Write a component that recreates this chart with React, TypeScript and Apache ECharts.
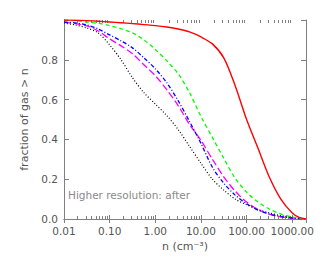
import React, { useEffect, useRef } from "react";
import * as echarts from "echarts";

const nValues = [0.01, 0.0178, 0.0316, 0.0562, 0.1, 0.178, 0.316, 0.562, 1, 1.78, 3.16, 5.62, 10, 17.8, 31.6, 56.2, 100, 178, 316, 562, 1000, 1410, 2000];
const redValues = [1.0, 0.999, 0.997, 0.994, 0.99, 0.986, 0.982, 0.977, 0.972, 0.965, 0.955, 0.94, 0.915, 0.88, 0.81, 0.67, 0.5, 0.355, 0.21, 0.1, 0.03, 0.008, 0.0];
const greenValues = [1.0, 0.997, 0.99, 0.983, 0.972, 0.956, 0.935, 0.9, 0.852, 0.795, 0.73, 0.635, 0.515, 0.41, 0.305, 0.205, 0.135, 0.085, 0.05, 0.025, 0.01, 0.004, 0.0];
const blueValues = [0.99, 0.985, 0.975, 0.955, 0.925, 0.895, 0.86, 0.81, 0.755, 0.685, 0.595, 0.49, 0.38, 0.26, 0.18, 0.12, 0.077, 0.045, 0.025, 0.012, 0.005, 0.002, 0.0];
const magentaValues = [0.988, 0.982, 0.97, 0.945, 0.905, 0.87, 0.83, 0.775, 0.72, 0.65, 0.57, 0.475, 0.395, 0.3, 0.212, 0.14, 0.085, 0.048, 0.024, 0.011, 0.005, 0.002, 0.0];
const blackValues = [0.985, 0.975, 0.96, 0.935, 0.875, 0.8, 0.71, 0.635, 0.578, 0.52, 0.45, 0.365, 0.28, 0.2, 0.145, 0.1, 0.072, 0.048, 0.03, 0.017, 0.008, 0.004, 0.0];

const xMin = 0.01;
const xMax = 2000;
const decades = [0.01, 0.1, 1, 10, 100, 1000];
const minorMultipliers = [2, 3, 4, 5, 6, 7, 8, 9];

const AXIS_COLOR = "#808080";
const TEXT_COLOR = "#555555";
const FONT = "DejaVu Sans";

function pairs(values: number[]) {
  return nValues.map((n, i) => [n, values[i]]);
}

export default function App() {
  const ref = useRef<HTMLDivElement>(null);
  useEffect(() => {
    if (!ref.current) return;
    const chart = echarts.init(ref.current, undefined, { renderer: "svg" });

    const minorTicks: number[] = [];
    decades.forEach((d) => {
      minorMultipliers.forEach((m) => {
        const v = Number((d * m).toPrecision(3));
        if (v < xMax) minorTicks.push(v);
      });
    });

    const xAxisBase = {
      type: "log" as const,
      logBase: 10,
      min: xMin,
      max: xMax,
      axisLine: { show: true, lineStyle: { color: AXIS_COLOR, width: 1 } },
      axisTick: { show: true, inside: true, length: 4, lineStyle: { color: AXIS_COLOR } },
      splitLine: { show: false },
    };
    const minorAxis = (position: "top" | "bottom") => ({
      type: "log" as const,
      logBase: 10,
      min: xMin,
      max: xMax,
      position,
      axisLine: { show: false },
      axisLabel: { show: false },
      splitLine: { show: false },
      axisTick: {
        show: true,
        inside: true,
        length: 3,
        customValues: minorTicks,
        lineStyle: { color: AXIS_COLOR },
      },
    });
    const yAxisBase = {
      type: "value" as const,
      min: 0,
      max: 1,
      interval: 0.2,
      axisLine: { show: true, lineStyle: { color: AXIS_COLOR, width: 1 } },
      axisTick: { show: true, inside: true, length: 5, lineStyle: { color: AXIS_COLOR } },
      splitLine: { show: false },
    };

    const lineSeries = (data: number[], color: string, type: any, width = 1.3) => ({
      type: "line",
      xAxisIndex: 0,
      yAxisIndex: 0,
      data: pairs(data),
      showSymbol: false,
      smooth: 0.3,
      lineStyle: { color, width, type },
      z: 3,
    });

    chart.setOption({
      animation: false,
      backgroundColor: "#ffffff",
      grid: { left: 64, right: 19, top: 20, bottom: 41, containLabel: false },
      xAxis: [
        {
          ...xAxisBase,
          position: "bottom",
          name: "n (cm\u207B\u00B3)",
          nameLocation: "middle",
          nameGap: 22,
          nameTextStyle: { color: TEXT_COLOR, fontFamily: FONT, fontSize: 11 },
          axisLabel: {
            show: true,
            color: TEXT_COLOR,
            fontFamily: FONT,
            fontSize: 10.5,
            margin: 6,
            showMaxLabel: false,
            formatter: (v: number) => (v > 1500 ? "" : v.toFixed(2)),
          },
        },
        {
          ...xAxisBase,
          position: "top",
          axisLabel: { show: false },
        },
        minorAxis("bottom"),
        minorAxis("top"),
      ],
      yAxis: [
        {
          ...yAxisBase,
          position: "left",
          name: "fraction of gas > n",
          nameLocation: "middle",
          nameGap: 23,
          nameTextStyle: { color: TEXT_COLOR, fontFamily: FONT, fontSize: 11 },
          axisLabel: {
            show: true,
            color: TEXT_COLOR,
            fontFamily: FONT,
            fontSize: 10.5,
            margin: 6,
            formatter: (v: number) => (v > 0.99 ? "" : v.toFixed(1)),
          },
        },
        {
          ...yAxisBase,
          position: "right",
          axisLabel: { show: false },
        },
      ],
      graphic: [
        {
          type: "text",
          x: 68,
          y: 189,
          style: {
            text: "Higher resolution: after",
            fill: "#8a8a8a",
            font: `10.5px ${FONT}`,
          },
        },
      ],
      series: [
        lineSeries(blackValues, "#000000", [1, 2], 1.2),
        lineSeries(magentaValues, "#ff00ff", [7, 3]),
        lineSeries(blueValues, "#0000ff", [4, 2, 1, 2]),
        lineSeries(greenValues, "#00ff00", [4, 3]),
        lineSeries(redValues, "#ff0000", "solid", 1.4),
      ],
    });
    return () => chart.dispose();
  }, []);
  return (
    <div
      ref={ref}
      style={{ position: "fixed", left: 0, top: 0, width: 325, height: 260, background: "#fff" }}
    />
  );
}
